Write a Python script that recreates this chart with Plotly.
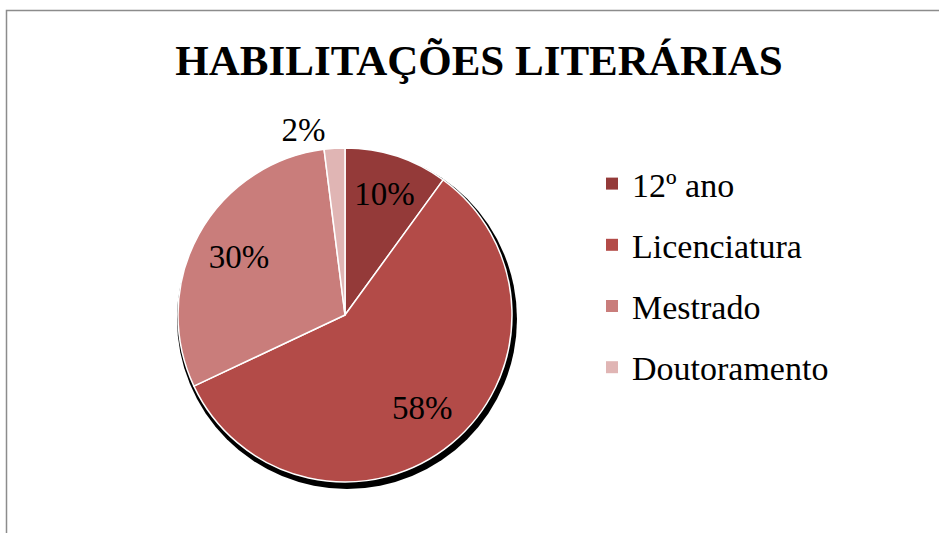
import plotly.graph_objects as go

categories = ["12º ano", "Licenciatura", "Mestrado", "Doutoramento"]
values = [10, 58, 30, 2]
colors = ["#943A39", "#B34B48", "#C97D7B", "#E0B5B4"]
title_text = "HABILITAÇÕES LITERÁRIAS"

W, H = 939, 533
FONT = "Liberation Serif"

def dom_x(cx, r):
    return [(cx - r) / W, (cx + r) / W]

def dom_y(cy, r):
    return [(H - cy - r) / H, (H - cy + r) / H]

fig = go.Figure()

# shadow
fig.add_trace(go.Pie(
    values=[1], labels=["shadow"], marker=dict(colors=["#000000"]),
    domain=dict(x=dom_x(347, 170), y=dom_y(319, 170)),
    textinfo="none", hoverinfo="skip", showlegend=False, sort=False,
))

# slices
fig.add_trace(go.Pie(
    labels=categories, values=values, sort=False, direction="clockwise", rotation=0,
    marker=dict(colors=colors, line=dict(color="white", width=1.5)),
    domain=dict(x=dom_x(345, 167), y=dom_y(315, 167)),
    textinfo="none", showlegend=False,
))

# percentage labels (transparent ring so labels sit toward the rim)
fig.add_trace(go.Pie(
    labels=categories, values=values, sort=False, direction="clockwise", rotation=0,
    hole=0.45,
    marker=dict(colors=["rgba(0,0,0,0)"] * len(values), line=dict(width=0)),
    domain=dict(x=dom_x(345, 167), y=dom_y(315, 167)),
    texttemplate="%{value}%",
    textposition=["inside", "inside", "inside", "outside"],
    insidetextorientation="horizontal",
    textfont=dict(family=FONT, size=33, color="black"),
    outsidetextfont=dict(family=FONT, size=33, color="black"),
    hoverinfo="skip", showlegend=False,
))

# legend entries
for c, col in zip(categories, colors):
    fig.add_trace(go.Scatter(
        x=[None], y=[None], mode="markers", name=c, legendgroup=c,
        marker=dict(symbol="square", size=12, color=col), hoverinfo="skip",
    ))

fig.update_layout(
    width=W, height=H,
    margin=dict(l=0, r=0, t=0, b=0),
    paper_bgcolor="white", plot_bgcolor="white",
    xaxis=dict(visible=False), yaxis=dict(visible=False),
    title=dict(text=title_text, x=479 / W, xanchor="center", y=1 - 60 / H, yanchor="middle",
               font=dict(family=FONT, size=43, color="black", weight="bold")),
    legend=dict(x=592 / W, xanchor="left", y=1 - 155 / H, yanchor="top",
                font=dict(family=FONT, size=34, color="black"),
                traceorder="grouped", tracegroupgap=14, bgcolor="rgba(0,0,0,0)"),
    shapes=[dict(type="rect", xref="paper", yref="paper",
                 x0=6.5 / W, x1=1.02, y0=-0.02, y1=1 - 10.5 / H,
                 line=dict(color="#8C8C8C", width=1.5), layer="above")],
)

fig.write_html("out.html", config={"displayModeBar": False},
               post_script="document.body.style.margin='0';")
